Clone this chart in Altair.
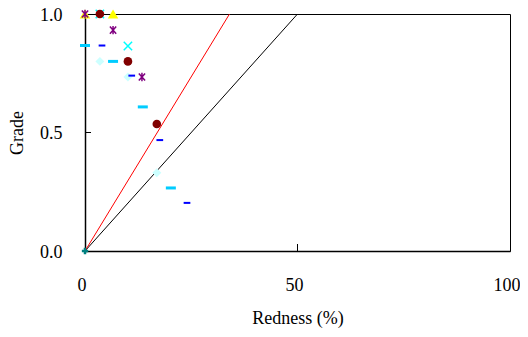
import altair as alt
import pandas as pd

# series data (Redness %, Grade)
ast_x = [0, 6.6, 13.4]
ast_y = [1.0, 0.932, 0.734]
circ_x = [3.5, 10.1, 16.9]
circ_y = [1.0, 0.80, 0.536]
tri_x = [0, 6.6]
tri_y = [1.0, 1.0]
xm_x = [3.5, 10.1]
xm_y = [1.0, 0.865]
dia_x = [3.5, 10.1, 16.9]
dia_y = [0.80, 0.734, 0.33]
dash_x = [0, 6.6, 13.6, 20.2]
dash_y = [0.867, 0.80, 0.608, 0.266]
bdash_x = [4.0, 11.0, 17.6, 24.0]
bdash_y = [0.867, 0.74, 0.468, 0.203]
plus_x = [0]
plus_y = [0.0]
black_line_x = [0, 50]
black_line_y = [0, 1]
red_line_x = [0, 34]
red_line_y = [0, 1]

FONT = "Liberation Serif"
xs = alt.Scale(domain=[0, 100], nice=False)
ys = alt.Scale(domain=[0, 1], nice=False)

def df(x, y):
    return pd.DataFrame({"x": x, "y": y})

def enc(ch, **kw):
    return ch.encode(x=alt.X("x:Q", scale=xs), y=alt.Y("y:Q", scale=ys), **kw)

base_x = alt.X("x:Q", scale=xs, title="Redness (%)",
               axis=alt.Axis(values=[0, 50, 100], ticks=False, grid=False, labelFlush=False,
                             labelOffset=-3.5, labelPadding=25, titlePadding=15, domainColor="black"))
base_y = alt.Y("y:Q", scale=ys, title="Grade",
               axis=alt.Axis(values=[0, 0.5, 1.0], format=".1f", ticks=False, grid=False, labelFlush=False,
                             labelPadding=23, titlePadding=13, labelOffset=1, domainColor="black"))

blk = alt.Chart(df(black_line_x, black_line_y)).mark_line(color="black", strokeWidth=1).encode(x=base_x, y=base_y)
red = enc(alt.Chart(df(red_line_x, red_line_y)).mark_line(color="red", strokeWidth=1))

ytick = alt.Chart(pd.DataFrame({"y": [0.5]})).mark_rule(color="black").encode(
    y=alt.Y("y:Q", scale=ys), x=alt.value(0), x2=alt.value(6))
xtick = alt.Chart(pd.DataFrame({"x": [50]})).mark_rule(color="black").encode(
    x=alt.X("x:Q", scale=xs), y=alt.value(237), y2=alt.value(230))

dash_path = "M-1,-0.3L1,-0.3L1,0.3L-1,0.3Z"
ast_path = "M-0.75,-0.85L0.75,0.85M-0.75,0.85L0.75,-0.85M0,-1L0,1"
x_path = "M-1,-1L1,1M-1,1L1,-1"

tri = enc(alt.Chart(df(tri_x, tri_y)).mark_point(shape="triangle-up", filled=True, color="#FFFF00", size=110, opacity=1))
xm = enc(alt.Chart(df(xm_x, xm_y)).mark_point(shape=x_path, color="#00FFFF", size=70, strokeWidth=1.5, opacity=1))
circ = enc(alt.Chart(df(circ_x, circ_y)).mark_point(shape="circle", filled=True, color="#800000", size=75, opacity=1))
dia = enc(alt.Chart(df(dia_x, dia_y)).mark_point(shape="diamond", filled=True, color="#CCFFFF", size=80, opacity=1))
dash = enc(alt.Chart(df(dash_x, dash_y)).mark_point(shape=dash_path, filled=True, color="#00CCFF", size=100, opacity=1))
bdash = enc(alt.Chart(df(bdash_x, bdash_y)).mark_point(shape=dash_path, filled=True, color="#0000FF", size=45, opacity=1))
ast = enc(alt.Chart(df(ast_x, ast_y)).mark_point(shape=ast_path, color="#800080", size=70, strokeWidth=1.5, opacity=1))
plus = enc(alt.Chart(df(plus_x, plus_y)).mark_point(shape="cross", filled=True, color="#008080", size=40, opacity=1))

chart = alt.layer(blk, red, ytick, xtick, tri, xm, circ, dia, dash, bdash, ast, plus).properties(
    width=425, height=237,
    autosize=alt.AutoSizeParams(type="none"),
    padding={"left": 77, "top": 6, "right": 10, "bottom": 80},
).configure_view(stroke="black", strokeWidth=1).configure_axis(
    labelFont=FONT, titleFont=FONT, labelFontSize=18, titleFontSize=18,
    titleFontWeight="normal", labelColor="black", titleColor="black", domainWidth=1.5
)

chart.save("out.html", embed_options={"renderer": "svg", "actions": False})
